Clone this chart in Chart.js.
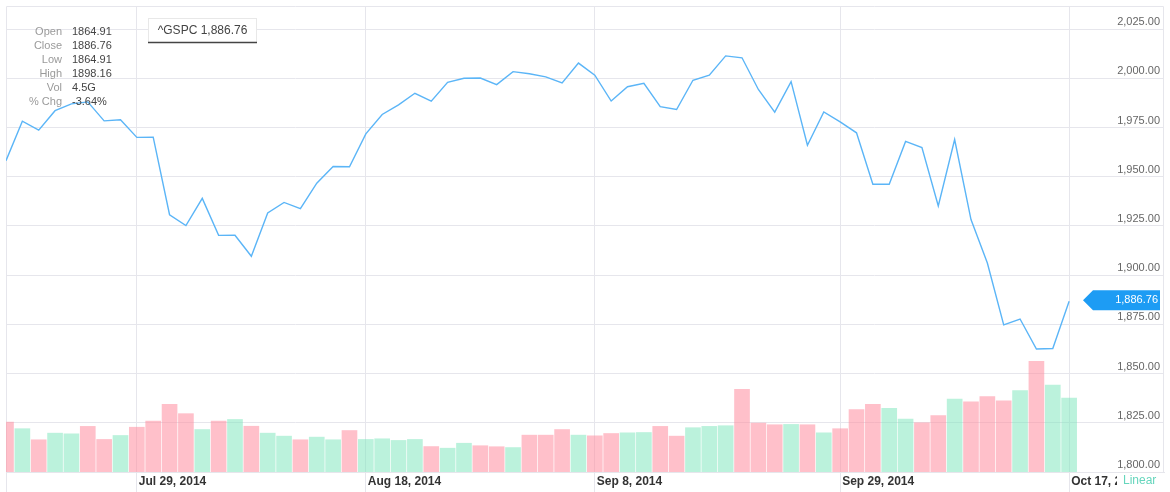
<!DOCTYPE html>
<html>
<head>
<meta charset="utf-8">
<script src="https://cdn.jsdelivr.net/npm/chart.js@4.4.1/dist/chart.umd.min.js"></script>
<style>
html,body{margin:0;padding:0;background:#fff;}
#wrap{width:1170px;height:492px;position:relative;}
</style>
</head>
<body>
<div id="wrap"><canvas id="c" width="1170" height="492"></canvas></div>
<script>
// ---------- DATA ----------
const dates = [
 "Jul 17, 2014","Jul 18, 2014","Jul 21, 2014","Jul 22, 2014","Jul 23, 2014","Jul 24, 2014","Jul 25, 2014",
 "Jul 28, 2014","Jul 29, 2014","Jul 30, 2014","Jul 31, 2014","Aug 1, 2014",
 "Aug 4, 2014","Aug 5, 2014","Aug 6, 2014","Aug 7, 2014","Aug 8, 2014",
 "Aug 11, 2014","Aug 12, 2014","Aug 13, 2014","Aug 14, 2014","Aug 15, 2014",
 "Aug 18, 2014","Aug 19, 2014","Aug 20, 2014","Aug 21, 2014","Aug 22, 2014",
 "Aug 25, 2014","Aug 26, 2014","Aug 27, 2014","Aug 28, 2014","Aug 29, 2014",
 "Sep 2, 2014","Sep 3, 2014","Sep 4, 2014","Sep 5, 2014",
 "Sep 8, 2014","Sep 9, 2014","Sep 10, 2014","Sep 11, 2014","Sep 12, 2014",
 "Sep 15, 2014","Sep 16, 2014","Sep 17, 2014","Sep 18, 2014","Sep 19, 2014",
 "Sep 22, 2014","Sep 23, 2014","Sep 24, 2014","Sep 25, 2014","Sep 26, 2014",
 "Sep 29, 2014","Sep 30, 2014","Oct 1, 2014","Oct 2, 2014","Oct 3, 2014",
 "Oct 6, 2014","Oct 7, 2014","Oct 8, 2014","Oct 9, 2014","Oct 10, 2014",
 "Oct 13, 2014","Oct 14, 2014","Oct 15, 2014","Oct 16, 2014","Oct 17, 2014"
];
const closes = [
 1958.12,1978.22,1973.63,1983.53,1987.01,1987.98,1978.34,1978.91,1969.95,1970.07,
 1930.67,1925.15,1938.99,1920.21,1920.24,1909.57,1931.59,1936.92,1933.75,1946.72,
 1955.18,1955.06,1971.74,1981.60,1986.51,1992.37,1988.40,1997.92,2000.02,2000.12,
 1996.74,2003.37,2002.28,2000.72,1997.65,2007.71,2001.54,1988.44,1995.69,1997.45,
 1985.54,1984.13,1998.98,2001.57,2011.36,2010.40,1994.29,1982.77,1998.30,1965.99,
 1982.85,1977.80,1972.29,1946.16,1946.17,1967.90,1964.82,1935.10,1968.89,1928.21,
 1906.13,1874.74,1877.70,1862.49,1862.76,1886.76
];
// volume in billions of shares
const volumes = [
 3.02,2.62,1.95,2.35,2.31,2.76,1.97,2.21,2.71,3.08,
 4.09,3.53,2.57,3.08,3.18,2.77,2.35,2.17,1.95,2.11,
 1.95,2.51,1.97,2.01,1.91,1.97,1.54,1.44,1.74,1.59,
 1.53,1.48,2.23,2.23,2.57,2.23,2.19,2.33,2.37,2.39,
 2.76,2.17,2.68,2.76,2.80,5.00,2.96,2.86,2.88,2.86,
 2.37,2.62,3.77,4.09,3.85,3.20,2.98,3.42,4.41,4.25,
 4.57,4.31,4.92,6.69,5.26,4.47
];
// 1 = close above open (green), 0 = close below open (red)
const volUp = [
 0,1,0,1,1,0,0,1,0,0,
 0,0,1,0,1,0,1,1,0,1,
 1,0,1,1,1,1,0,1,1,0,
 0,1,0,0,0,1,0,0,1,1,
 0,0,1,1,1,0,0,0,1,0,
 1,0,0,0,1,1,0,0,1,0,
 0,0,1,0,1,1
];
const tickDates = ["Jul 29, 2014","Aug 18, 2014","Sep 8, 2014","Sep 29, 2014","Oct 17, 2014"];
const infoLabels = ["Open","Close","Low","High","Vol","% Chg"];
const infoValues = ["1864.91","1886.76","1864.91","1898.16","4.5G","-3.64%"];
const symbol = "^GSPC";
const scaleLabel = "Linear";

// ---------- HELPERS ----------
const FONT = "'Liberation Sans', Arial, Helvetica, sans-serif";
const fmt = v => Number(v).toLocaleString('en-US',{minimumFractionDigits:2,maximumFractionDigits:2});
const tickIdx = tickDates.map(d => dates.indexOf(d));
const last = closes.length - 1;
const GRID = '#e6e6ec';

const overlay = {
  id: 'overlay',
  beforeDatasetsDraw(chart) {
    const {ctx, chartArea: a} = chart;
    ctx.save();
    ctx.strokeStyle = GRID; ctx.lineWidth = 1;
    ctx.beginPath();
    ctx.moveTo(a.left + 0.5, chart.height);
    ctx.lineTo(a.left + 0.5, a.top + 0.5);
    ctx.lineTo(a.right - 0.5, a.top + 0.5);
    ctx.lineTo(a.right - 0.5, a.bottom);
    ctx.stroke();
    ctx.restore();
  },
  afterDraw(chart) {
    const {ctx, chartArea: a, scales} = chart;
    ctx.save();
    // clip the last date label + scale type
    ctx.fillStyle = '#fff';
    ctx.fillRect(1117, a.bottom + 1, chart.width - 1117, chart.height - a.bottom - 1);
    ctx.fillStyle = '#66d6bd';
    ctx.font = "12px " + FONT;
    ctx.textAlign = 'left'; ctx.textBaseline = 'middle';
    ctx.fillText(scaleLabel, 1123, 481);

    // info panel
    ctx.font = "11px " + FONT;
    infoLabels.forEach((l, i) => {
      const y = 31.5 + i * 14;
      ctx.textAlign = 'right'; ctx.fillStyle = '#9a9a9a';
      ctx.fillText(l, 62, y);
      ctx.textAlign = 'left'; ctx.fillStyle = '#444';
      ctx.fillText(infoValues[i], 72, y);
    });

    // legend box
    ctx.fillStyle = '#fff';
    ctx.fillRect(148, 18, 109, 24);
    ctx.strokeStyle = '#e8e8e8'; ctx.lineWidth = 1;
    ctx.strokeRect(148.5, 18.5, 108, 24);
    ctx.strokeStyle = '#444'; ctx.lineWidth = 1.5;
    ctx.beginPath(); ctx.moveTo(148, 42.5); ctx.lineTo(257, 42.5); ctx.stroke();
    ctx.fillStyle = '#444'; ctx.font = "12px " + FONT;
    ctx.textAlign = 'center';
    ctx.fillText(symbol + " " + fmt(closes[last]), 202.5, 30.5);

    // last price tag
    const py = scales.y.getPixelForValue(closes[last]) - 1;
    ctx.fillStyle = '#1d9cf4';
    ctx.beginPath();
    ctx.moveTo(1083, py);
    ctx.lineTo(1093, py - 10);
    ctx.lineTo(1160, py - 10);
    ctx.lineTo(1160, py + 10);
    ctx.lineTo(1093, py + 10);
    ctx.closePath(); ctx.fill();
    ctx.fillStyle = '#fff'; ctx.font = "11px " + FONT;
    ctx.textAlign = 'right';
    ctx.fillText(fmt(closes[last]), 1158, py);
    ctx.restore();
  }
};

new Chart(document.getElementById('c'), {
  data: {
    datasets: [
      {
        type: 'line',
        data: closes.map((v, i) => ({x: i, y: v})),
        borderColor: '#5bb5f7',
        borderWidth: 1.4,
        pointRadius: 0,
        tension: 0,
        yAxisID: 'y',
        order: 1
      },
      {
        type: 'bar',
        data: volumes.map((v, i) => ({x: i, y: v})),
        backgroundColor: volUp.map(u => u ? 'rgba(120,230,185,0.5)' : 'rgba(255,140,158,0.55)'),
        borderWidth: 0,
        barThickness: 15,
        yAxisID: 'yVol',
        order: 2
      }
    ]
  },
  options: {
    responsive: false,
    animation: false,
    devicePixelRatio: 1,
    layout: {padding: {left: 6, top: 6, right: 6, bottom: 0}},
    plugins: {legend: {display: false}, tooltip: {enabled: false}},
    scales: {
      x: {
        type: 'linear', min: 0, max: 70.8, offset: false,
        afterBuildTicks(s) { s.ticks = tickIdx.map(v => ({value: v})); },
        afterFit(s) { s.height = 20; },
        grid: {color: GRID, lineWidth: 1, drawTicks: true, tickLength: 20, offset: false},
        border: {display: true, color: GRID},
        ticks: {
          align: 'start', padding: -18, labelOffset: 2, maxRotation: 0, autoSkip: false,
          color: '#333', font: {family: FONT, size: 12, weight: 'bold'},
          callback: v => dates[v]
        }
      },
      y: {
        type: 'linear', position: 'right', min: 1800, max: 2036.7,
        afterFit(s) { s.width = 0; },
        border: {display: false},
        grid: {color: GRID, lineWidth: 1, drawTicks: false},
        ticks: {
          stepSize: 25, includeBounds: false, mirror: true, padding: -4, labelOffset: -7,
          color: '#666', font: {family: FONT, size: 11},
          callback: v => fmt(v)
        }
      },
      yVol: {type: 'linear', display: false, min: 0, max: 28.2}
    }
  },
  plugins: [overlay]
});
</script>
</body>
</html>
